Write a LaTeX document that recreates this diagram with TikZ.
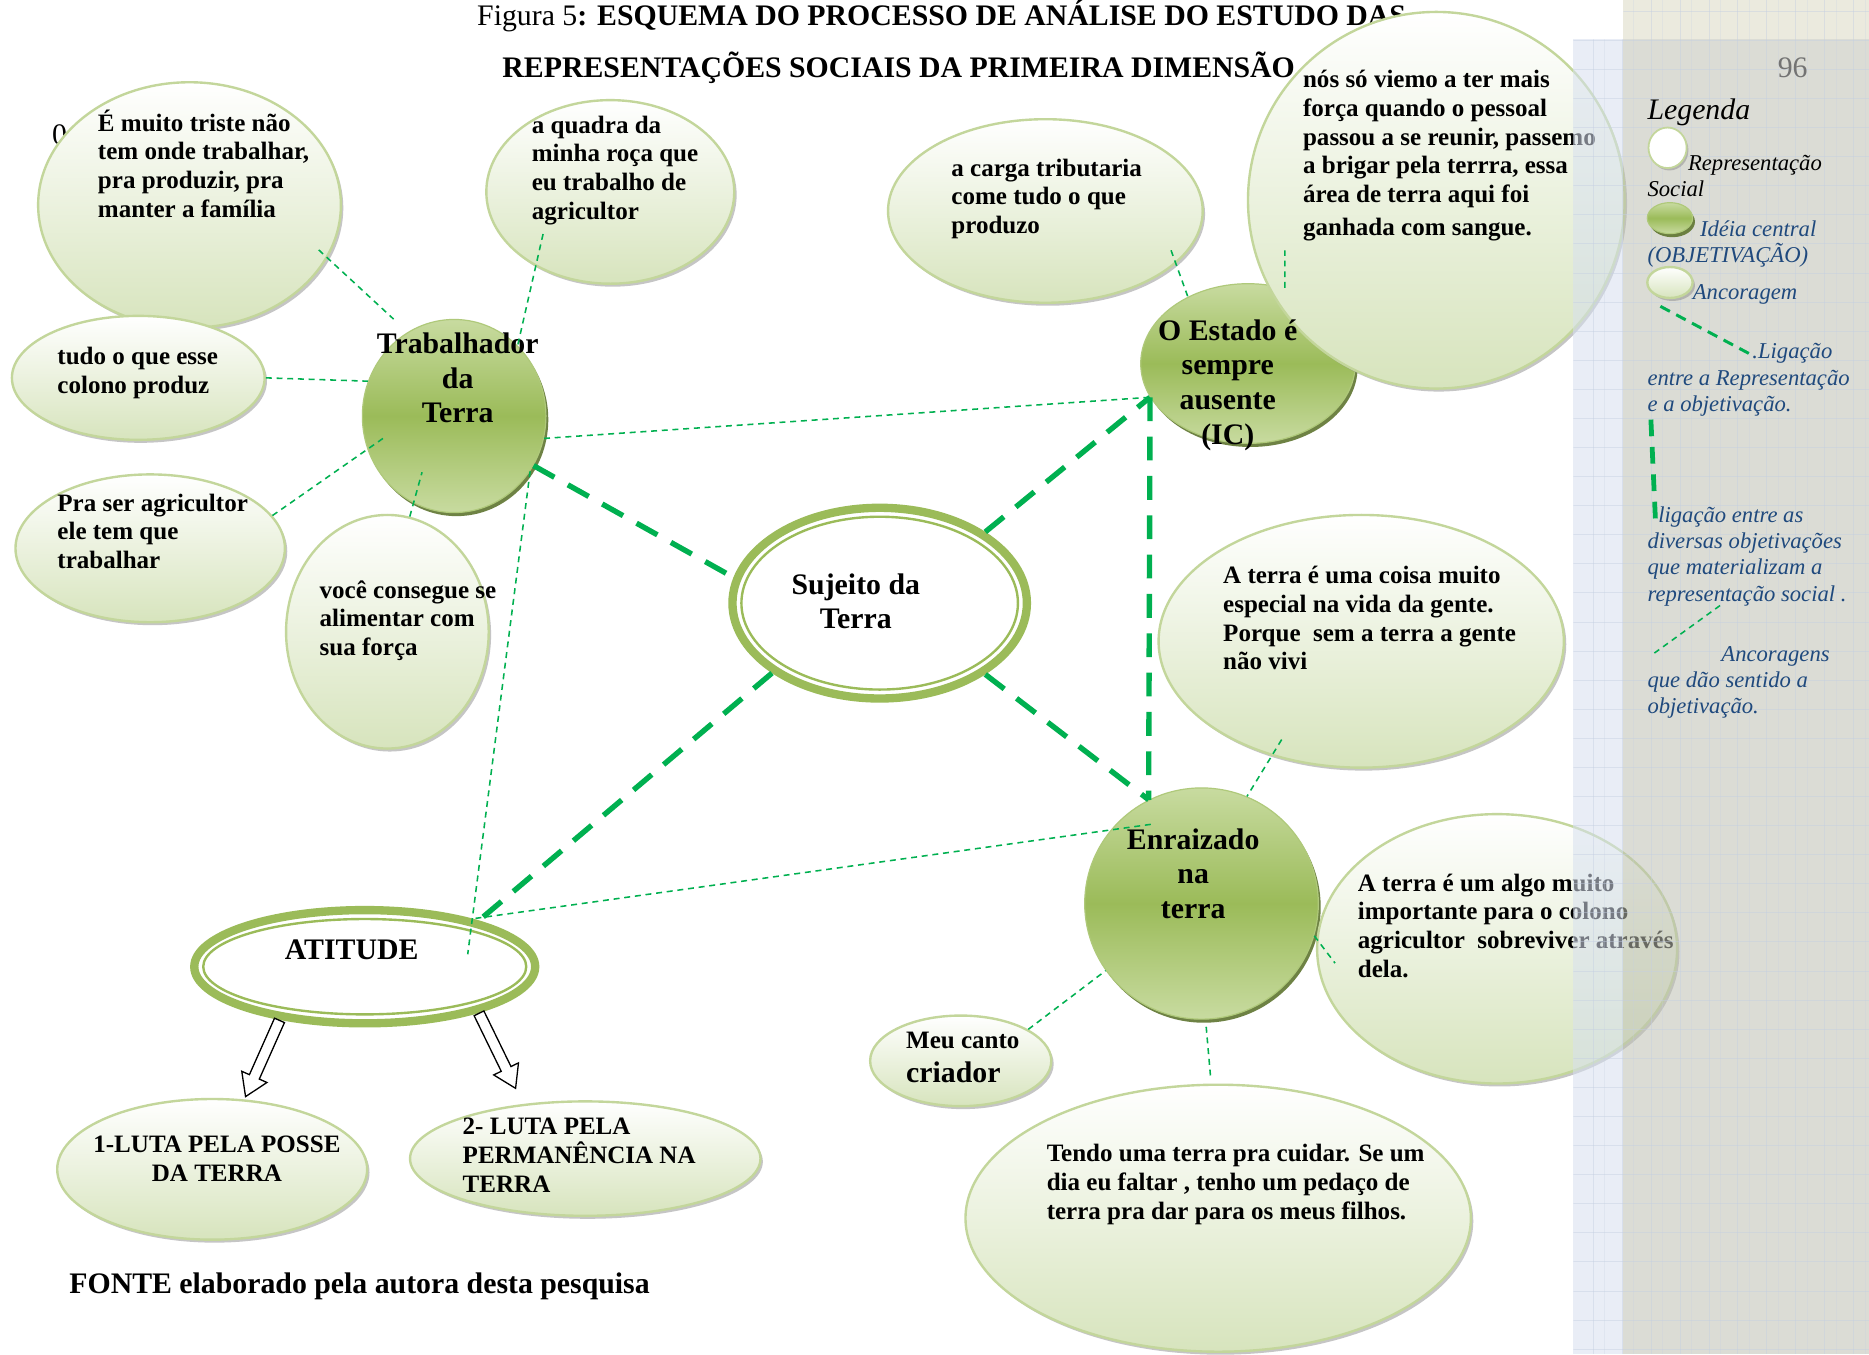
\documentclass[tikz,border=0pt]{standalone}
\usepackage{fontspec}
\setmainfont{Liberation Serif}
\usetikzlibrary{shapes.geometric,shapes.arrows,shadows}

\definecolor{verdeliga}{RGB}{0,176,80}
\definecolor{verdeborda}{RGB}{195,214,155}
\definecolor{verdeclaro}{RGB}{215,228,189}
\definecolor{verdemedio}{RGB}{155,187,89}
\definecolor{verdetopo}{RGB}{200,219,160}
\definecolor{verdeescuro}{RGB}{95,117,48}
\definecolor{azullegenda}{RGB}{31,73,125}
\definecolor{painelazul}{RGB}{215,224,239}
\definecolor{painelcinza}{RGB}{191,193,180}
\definecolor{painelbege}{RGB}{220,217,195}
\definecolor{linhagrade}{RGB}{196,207,226}

\newcommand{\fala}{\fontsize{21}{24}\selectfont\bfseries}
\newcommand{\falagrande}{\fontsize{25}{29}\selectfont\bfseries}
\newcommand{\fonteleg}{\fontsize{19}{22}\selectfont\itshape}

\tikzset{
	ancora/.style={ellipse, draw=verdeborda, line width=2pt, top color=white, bottom color=verdeclaro, inner sep=0pt,
		drop shadow={shadow xshift=2pt, shadow yshift=-2.5pt, fill=black!45, opacity=.5}},
	ideia/.style={ellipse, draw=verdemedio!80!white, line width=1pt, top color=verdetopo, bottom color=verdetopo, middle color=verdemedio, inner sep=0pt,
		drop shadow={shadow xshift=2pt, shadow yshift=-3pt, fill=verdeescuro, opacity=.9}},
	repres/.style={ellipse, draw=verdemedio, line width=7pt, fill=white, inner sep=0pt},
	represin/.style={ellipse, draw=verdemedio, line width=2pt, inner sep=0pt},
	fala/.style={font=\fala, align=left, inner sep=0pt, anchor=north west},
	centro/.style={font=\falagrande, align=center, inner sep=0pt, anchor=north},
	liga/.style={draw=verdeliga, line width=1.3pt, dash pattern=on 5pt off 4pt},
	forte/.style={draw=verdeliga, line width=4.5pt, dash pattern=on 20pt off 13pt},
	seta/.style={single arrow, draw=black, fill=white, line width=1.1pt, inner sep=4pt, single arrow head extend=7pt,
		single arrow tip angle=65, minimum height=70pt, anchor=tail},
	legenda/.style={font=\fonteleg, text=azullegenda, align=left, inner sep=0pt, anchor=north west},
	grade/.style={draw=linhagrade, line width=.5pt, opacity=.45}
}

\begin{document}
\begin{tikzpicture}[x=1pt, y=-1pt]
	\useasboundingbox (0,0) rectangle (1568,1136);
	\fill[white] (0,0) rectangle (1568,1136);
	\node[font=\fontsize{25}{29}\selectfont, anchor=base, inner sep=0pt] (titulo1) at (790,21) {Figura 5\textbf{: ESQUEMA DO PROCESSO DE ANÁLISE DO ESTUDO DAS}};
	\node[font=\falagrande, anchor=base, inner sep=0pt] (titulo2) at (754,65) {REPRESENTAÇÕES SOCIAIS DA PRIMEIRA DIMENSÃO};
	\node[font=\fontsize{25}{29}\selectfont, anchor=base, inner sep=0pt] (zero) at (50,121) {0};

	\node[ancora, minimum width=254pt, minimum height=206pt] (triste) at (159,172) {};
	\node[ancora, minimum width=212pt, minimum height=104pt] (colono) at (116,317) {};
	\node[ancora, minimum width=208pt, minimum height=154pt] (quadra) at (512,161) {};
	\node[ancora, minimum width=226pt, minimum height=124pt] (agricultor) at (126,460) {};
	\node[ancora, minimum width=170pt, minimum height=196pt] (forca) at (325,530) {};
	\node[ancora, minimum width=264pt, minimum height=154pt] (carga) at (877,177) {};
	\node[ideia, minimum width=154pt, minimum height=162pt] (trab) at (381,349) {};
	\node[ideia, minimum width=180pt, minimum height=134pt] (estado) at (1047,305) {};
	\node[ancora, minimum width=316pt, minimum height=316pt] (sangue) at (1205,168) {};
	\node[ancora, minimum width=340pt, minimum height=212pt] (especial) at (1142,538) {};
	\node[ideia, minimum width=196pt, minimum height=194pt] (enraiz) at (1008,758) {};
	\node[ancora, minimum width=302pt, minimum height=226pt] (algo) at (1256,796) {};
	\node[ancora, minimum width=152pt, minimum height=76pt] (canto) at (806,890) {};
	\node[ancora, minimum width=424pt, minimum height=224pt] (filhos) at (1022,1022) {};
	\node[ancora, minimum width=260pt, minimum height=118pt] (posse) at (178,981) {};
	\node[ancora, minimum width=294pt, minimum height=96pt] (perm) at (491,972) {};
	\node[repres, minimum width=247pt, minimum height=160pt] (sujeito) at (738,506) {};
	\node[represin, minimum width=232pt, minimum height=145pt] (sujeito-in) at (sujeito) {};
	\node[repres, minimum width=286pt, minimum height=95pt] (atitude) at (306,811) {};
	\node[represin, minimum width=271pt, minimum height=80pt] (atitude-in) at (atitude) {};

	\node[fala] (triste-t) at (82,92) {É muito triste não\\tem onde trabalhar,\\pra produzir, pra\\manter a família};
	\node[fala] (quadra-t) at (446,97) {a quadra da\\minha roça que\\eu trabalho de\\agricultor};
	\node[fala] (colono-t) at (48,291) {tudo o que esse\\colono produz};
	\node[fala] (agricultor-t) at (48,414) {Pra ser agricultor\\ele tem que\\trabalhar};
	\node[fala] (forca-t) at (268,487) {você consegue se\\alimentar com\\sua força};
	\node[fala] (carga-t) at (798,133) {a carga tributaria\\come tudo o que\\produzo};
	\node[fala] (sangue-t) at (1093,59) {nós só viemo a ter mais\\força quando o pessoal\\passou a se reunir, passemo\\a brigar pela terrra, essa\\área de terra aqui foi\\[4pt]ganhada com sangue.};
	\node[fala] (especial-t) at (1026,475) {A terra é uma coisa muito\\especial na vida da gente.\\Porque\ \ sem a terra a gente\\não vivi};
	\node[fala] (algo-t) at (1139,733) {A terra é um algo muito\\importante para o colono\\agricultor\ \ sobreviver através\\dela.};
	\node[fala] (canto-t) at (760,866) {Meu canto\\[4pt]{\falagrande criador}};
	\node[fala] (filhos-t) at (878,960) {Tendo uma terra pra cuidar. Se um\\dia eu faltar , tenho um pedaço de\\terra pra dar para os meus filhos.};
	\node[fala, align=center, anchor=north] (posse-t) at (182,953) {1-LUTA PELA POSSE\\DA TERRA};
	\node[fala] (perm-t) at (388,938) {2- LUTA PELA\\PERMANÊNCIA NA\\TERRA};
	\node[centro] (trab-t) at (384,279) {Trabalhador\\da\\Terra};
	\node[centro] (estado-t) at (1030,268) {O Estado é\\sempre\\ausente\\(IC)};
	\node[centro] (enraiz-t) at (1001,695) {Enraizado\\na\\terra};
	\node[centro] (sujeito-t) at (718,481) {Sujeito da\\Terra};
	\node[centro] (atitude-t) at (295,788) {ATITUDE};
	\node[font=\falagrande, anchor=base west, inner sep=0pt] (fonte) at (58,1085) {FONTE elaborado pela autora desta pesquisa};

	\coordinate (sangue-in) at (1078,210);
	\coordinate (algo-in) at (1120,808);
	\draw[liga, shorten <=-10pt, shorten >=16pt] (triste.-21) -- (trab.119);
	\draw[liga, shorten <=-28pt] (quadra.225) -- (trab.48);
	\draw[liga] (colono.0) -- (trab.158);
	\draw[liga, shorten >=-19pt] (agricultor.15) -- (trab.201);
	\draw[liga, shorten >=-27pt] (forca.79) -- (trab.245);
	\draw[liga] (trab.-14) -- (estado.199);
	\draw[liga, shorten >=-30pt] (trab.-36) -- (atitude.24);
	\draw[liga, shorten <=-12pt] (carga.-22) -- (estado.132);
	\draw[liga] (estado.64) -- (sangue-in);
	\draw[liga, shorten <=-16pt] (especial.232) -- (enraiz.67);
	\draw[liga, shorten <=-34pt] (enraiz.141) -- (atitude.24);
	\draw[liga] (enraiz.-16) -- (algo-in);
	\draw[liga] (canto.25) -- (enraiz.215);
	\draw[liga, shorten <=6pt, shorten >=6pt] (enraiz.-88) -- (filhos.93);

	\draw[forte] (trab.-32) -- (sujeito.170);
	\draw[forte] (sujeito.34) -- (estado.199);
	\draw[forte] (sujeito.-34) -- (enraiz.117);
	\draw[forte] (estado.199) -- (enraiz.117);
	\draw[forte] (sujeito.213) -- (atitude.22);

	\node[seta, rotate=-114] (seta1) at (atitude.212) {};
	\node[seta, rotate=-64] (seta2) at (atitude.-22) {};

	\fill[painelbege, opacity=.55] (1362,0) rectangle (1568,33);
	\fill[painelazul, opacity=.55] (1320,33) rectangle (1362,1136);
	\fill[painelcinza, opacity=.55] (1362,33) rectangle (1568,1136);
	\begin{scope}
		\clip (1320,33) -- (1362,33) -- (1362,0) -- (1568,0) -- (1568,1136) -- (1320,1136) -- cycle;
		\foreach \gx in {0,...,10}
			\draw[grade] ({1336.4+24.3*\gx},0) -- ++(0,1136);
		\foreach \gx in {0,...,9}
			\draw[grade, opacity=.25] ({1345.9+24.3*\gx},0) -- ++(0,1136);
		\foreach \gy in {0,...,46}
			\draw[grade] (1320,{9.3+24.4*\gy}) -- ++(248,0);
	\end{scope}

	\node[font=\fontsize{25}{29}\selectfont, text=black!55, anchor=base, inner sep=0pt] (pagina) at (1504,65) {96};
	\node[font=\fontsize{25}{29}\selectfont\itshape, anchor=base west, inner sep=0pt] (legenda) at (1382,100) {Legenda};
	\node[ellipse, draw=verdeborda, line width=1.5pt, fill=white, minimum width=32pt, minimum height=34pt, inner sep=0pt,
		drop shadow={shadow xshift=1.5pt, shadow yshift=-2pt, fill=black!45, opacity=.5}] (leg-rep) at (1399,124) {};
	\node[legenda, text=black] (leg-rep-t) at (1382,130) {\hspace*{34pt}Representação\\Social};
	\node[ideia, minimum width=38pt, minimum height=26pt] (leg-ideia) at (1401,183) {};
	\node[legenda] (leg-ideia-t) at (1382,185) {\hspace*{44pt}Idéia central\\(OBJETIVAÇÃO)};
	\node[ancora, minimum width=38pt, minimum height=26pt] (leg-ancora) at (1401,237) {};
	\node[legenda, anchor=base west] (leg-ancora-t) at (1420,251) {Ancoragem};
	\node[legenda] (leg-liga1-t) at (1382,288) {\hspace*{88pt}.Ligação\\entre a Representação\\e a objetivação.};
	\node[legenda] (leg-liga2-t) at (1382,425) {\hspace*{9pt}ligação entre as\\diversas objetivações\\que materializam a\\representação social .};
	\node[legenda] (leg-ancoras-t) at (1382,542) {\hspace*{62pt}Ancoragens\\que dão sentido a\\objetivação.};
	\coordinate (leg1a) at (1393,257);
	\coordinate (leg1b) at (1470,298);
	\coordinate (leg2a) at (1385,352);
	\coordinate (leg2b) at (1389,440);
	\coordinate (leg3a) at (1443,508);
	\coordinate (leg3b) at (1385,550);
	\draw[verdeliga, line width=2.5pt, dash pattern=on 9pt off 6pt] (leg1a) -- (leg1b);
	\draw[verdeliga, line width=4pt, dash pattern=on 14pt off 9pt] (leg2a) -- (leg2b);
	\draw[liga] (leg3a) -- (leg3b);
\end{tikzpicture}
\end{document}
